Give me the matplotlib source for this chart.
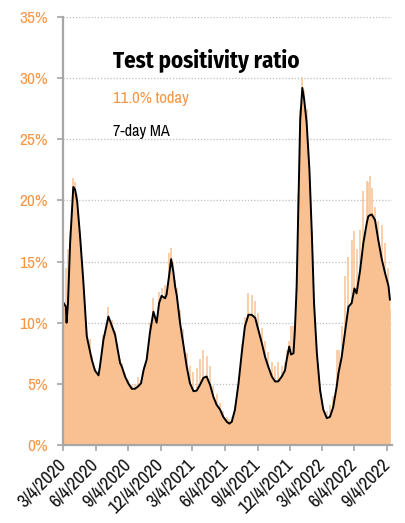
import matplotlib
matplotlib.use("Agg")
import matplotlib.pyplot as plt
import pandas as pd

plt.rcParams['font.family'] = ['Archivo Narrow', 'Fira Sans Condensed', 'DejaVu Sans']

dates = [
    "2020-03-04", "2020-03-12", "2020-03-14", "2020-03-18", "2020-03-24", "2020-04-02",
    "2020-04-07", "2020-04-13", "2020-04-21", "2020-04-30", "2020-05-10", "2020-05-18",
    "2020-05-24", "2020-06-02", "2020-06-12", "2020-06-16", "2020-06-26", "2020-07-10",
    "2020-07-19", "2020-07-29", "2020-08-04", "2020-08-12", "2020-08-17", "2020-08-26",
    "2020-09-04", "2020-09-14", "2020-09-23", "2020-10-02", "2020-10-10", "2020-10-17",
    "2020-10-26", "2020-11-04", "2020-11-14", "2020-11-23", "2020-11-30", "2020-12-07",
    "2020-12-17", "2020-12-21", "2020-12-28", "2021-01-03", "2021-01-09", "2021-01-14",
    "2021-01-19", "2021-01-28", "2021-02-06", "2021-02-16", "2021-02-25", "2021-03-07",
    "2021-03-16", "2021-03-25", "2021-04-04", "2021-04-13", "2021-04-23", "2021-05-02",
    "2021-05-11", "2021-05-21", "2021-05-30", "2021-06-09", "2021-06-16", "2021-06-23",
    "2021-07-02", "2021-07-12", "2021-07-21", "2021-07-30", "2021-08-09", "2021-08-18",
    "2021-08-28", "2021-09-06", "2021-09-16", "2021-09-25", "2021-10-04", "2021-10-14",
    "2021-10-23", "2021-11-01", "2021-11-11", "2021-11-20", "2021-11-25", "2021-12-02",
    "2021-12-07", "2021-12-14", "2021-12-18", "2021-12-23", "2021-12-28", "2022-01-02",
    "2022-01-08", "2022-01-13", "2022-01-20", "2022-01-28", "2022-02-04", "2022-02-10",
    "2022-02-18", "2022-02-27", "2022-03-08", "2022-03-18", "2022-03-27", "2022-04-05",
    "2022-04-15", "2022-04-20", "2022-04-29", "2022-05-08", "2022-05-18", "2022-05-27",
    "2022-06-04", "2022-06-10", "2022-06-20", "2022-06-29", "2022-07-09", "2022-07-13",
    "2022-07-18", "2022-07-23", "2022-08-01", "2022-08-10", "2022-08-20", "2022-08-29",
    "2022-09-08", "2022-09-12",
]

# 7-day moving average of test positivity (%)
ma_7day = [
    11.7, 11.3, 10.0, 11.6, 16.5, 21.1,
    20.9, 19.9, 17.1, 13.5, 8.9, 7.8,
    7.0, 6.1, 5.7, 6.4, 8.6, 10.5,
    9.8, 9.0, 8.0, 6.7, 6.4, 5.6,
    5.05, 4.6, 4.6, 4.8, 5.05, 6.1,
    7.0, 9.15, 10.9, 10.0, 11.6, 12.2,
    12.0, 12.3, 13.8, 15.2, 14.2, 13.0,
    12.2, 10.0, 8.3, 6.4, 5.05, 4.4,
    4.45, 4.9, 5.5, 5.6, 4.9, 3.95,
    3.3, 2.9, 2.3, 1.9, 1.75, 1.9,
    2.9, 5.05, 7.5, 9.7, 10.65, 10.65,
    10.4, 9.4, 8.3, 7.2, 6.4, 5.6,
    5.2, 5.2, 5.6, 6.1, 7.0, 8.05,
    7.4, 7.5, 9.4, 13.0, 19.8, 26.6,
    29.2, 28.3, 26.4, 22.5, 17.1, 11.6,
    7.5, 4.5, 2.9, 2.2, 2.3, 3.1,
    4.8, 5.9, 7.2, 9.15, 11.3, 11.6,
    12.8, 12.4, 14.3, 16.5, 18.2, 18.7,
    18.8, 18.85, 18.4, 16.8, 15.2, 14.1,
    13.0, 11.9,
]

# highest daily positivity around each date (%)
daily_peak = [
    14.6, 14.5, 10.5, 16.0, 17.5, 21.8,
    21.5, 20.5, 17.5, 13.8, 9.2, 8.7,
    7.3, 6.3, 5.9, 6.6, 9.0, 11.3,
    10.2, 9.3, 8.3, 7.0, 6.7, 5.9,
    5.3, 4.9, 5.0, 5.6, 5.3, 6.5,
    7.5, 10.0, 12.0, 10.5, 12.5, 12.8,
    13.1, 12.6, 15.7, 16.1, 15.0, 13.5,
    12.8, 11.0, 9.5, 7.5, 6.5, 6.0,
    6.3, 7.0, 7.8, 7.3, 6.5, 4.8,
    4.2, 3.4, 2.8, 2.3, 2.1, 2.3,
    3.3, 5.6, 8.3, 10.5, 12.4, 12.3,
    11.8, 10.8, 9.6, 8.5, 7.6, 6.8,
    6.5, 6.8, 6.5, 6.8, 7.8, 8.5,
    9.7, 9.7, 10.0, 14.0, 20.5, 27.5,
    30.1, 29.0, 27.5, 23.0, 17.5, 12.0,
    7.8, 4.8, 3.2, 2.8, 3.3, 4.0,
    7.8, 7.8, 9.7, 13.8, 15.4, 16.8,
    17.5, 16.0, 17.6, 20.8, 21.6, 21.5,
    22.0, 21.0, 19.5, 18.3, 18.0, 16.5,
    14.5, 11.0,
]

tick_dates = ["2020-03-04", "2020-06-04", "2020-09-04", "2020-12-04", "2021-03-04",
              "2021-06-04", "2021-09-04", "2021-12-04", "2022-03-04", "2022-06-04",
              "2022-09-04"]
tick_labels = ["3/4/2020", "6/4/2020", "9/4/2020", "12/4/2020", "3/4/2021",
               "6/4/2021", "9/4/2021", "12/4/2021", "3/4/2022", "6/4/2022",
               "9/4/2022"]
y_ticks = [0, 5, 10, 15, 20, 25, 30, 35]

title_text = "Test positivity ratio"
today_text = "11.0% today"
ma_text = "7-day MA"

ORANGE_TXT = "#F79646"
FILL = "#F9C192"
GRAY = "#A6A6A6"

d = pd.to_datetime(dates)
td = pd.to_datetime(tick_dates)

fig = plt.figure(figsize=(4.05, 5.23), dpi=100)
ax = fig.add_axes([0.1556, 0.1491, 0.968 - 0.1556, 0.9675 - 0.1491])

ax.fill_between(d, 0, ma_7day, color=FILL, linewidth=0, zorder=2)
ax.vlines(d, 0, daily_peak, color=FILL, linewidth=1.1, zorder=2)
ax.plot(d, ma_7day, color="black", linewidth=1.4, zorder=3)

ax.set_xlim(pd.Timestamp("2020-03-04"), pd.Timestamp("2022-09-18"))
ax.set_ylim(0, 35)

ax.set_yticks(y_ticks)
ax.set_yticklabels([f"{v}%" for v in y_ticks], color=ORANGE_TXT, fontsize=12.5)
ax.yaxis.grid(True, linestyle=(0, (1, 1.5)), color="#BFBFBF", linewidth=0.9, zorder=1)
ax.set_axisbelow(True)

ax.set_xticks(td)
ax.set_xticklabels(tick_labels, rotation=45, ha="right", va="center",
                   rotation_mode="anchor", fontsize=13.5, color="#111111")

for s in ["top", "right"]:
    ax.spines[s].set_visible(False)
for s in ["left", "bottom"]:
    ax.spines[s].set_color(GRAY)
    ax.spines[s].set_linewidth(1.6)
    ax.spines[s].set_zorder(4)
ax.tick_params(axis="both", color=GRAY, width=1.2, length=4, direction="out")
ax.tick_params(axis="y", pad=7)
ax.tick_params(axis="x", pad=8)

fig.text(113 / 405, 1 - 68 / 523, title_text, fontsize=16.5, fontweight="bold",
         family=['Fira Sans Condensed', 'DejaVu Sans'],
         color="black", ha="left", va="baseline")
fig.text(113 / 405, 1 - 103 / 523, today_text, fontsize=12, color=ORANGE_TXT,
         ha="left", va="baseline")
fig.text(113 / 405, 1 - 136 / 523, ma_text, fontsize=11.7, color="black",
         ha="left", va="baseline")

fig.savefig("out.png", dpi=100)
